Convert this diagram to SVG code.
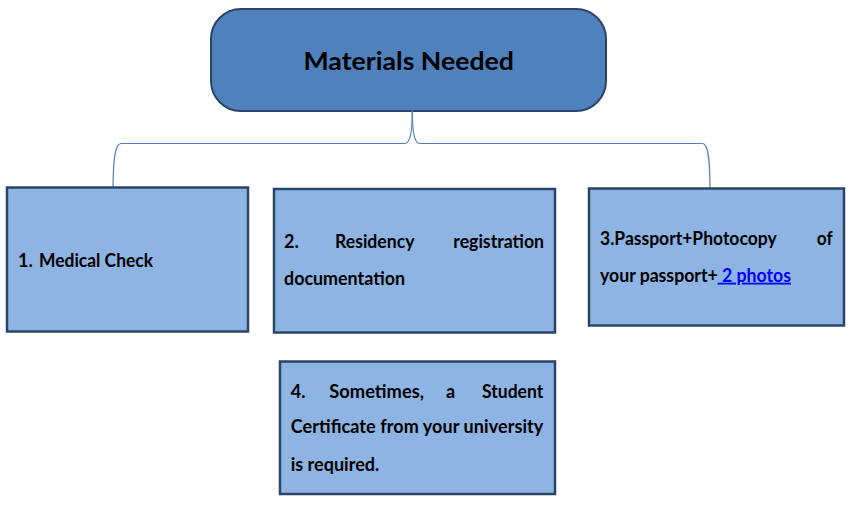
<svg xmlns="http://www.w3.org/2000/svg" width="852" height="505" viewBox="0 0 852 505">
<style>
.box{fill:#8eb4e3;stroke:#2a4467;stroke-width:2.5}
.top{fill:#4f81bd;stroke:#2a4467;stroke-width:2}
.t{font-family:Lato,"Liberation Sans",sans-serif;font-weight:bold;font-size:18px;fill:#000}
.title{font-family:Lato,"Liberation Sans",sans-serif;font-weight:bold;font-size:25px;fill:#000}
.link{fill:#0000ff;text-decoration:underline}
.conn{fill:none;stroke:#4f81bd;stroke-width:1.2}
</style>
<rect width="852" height="505" fill="#fff"/>
<g id="materials-needed">
<rect class="top" x="211" y="9" width="395" height="102" rx="30" ry="30"/>
<text class="title" x="303.5" y="70" textLength="210.5" lengthAdjust="spacingAndGlyphs">Materials Needed</text>
</g>
<g id="connectors">
<path class="conn" d="M412.3,95 L412.3,111 C412.3,130 410,143.5 405,143.5 L121,143.5 C116,143.5 113,155 113,192"/>
<path class="conn" d="M412.3,111 C412.3,130 414.6,143.5 419.6,143.5 L702.5,143.5 C707.5,143.5 710,155 710,192"/>
</g>
<g id="node-1">
<rect class="box" x="7" y="187.5" width="241" height="144"/>
<text class="t" x="18" y="266.5">1.</text>
<text class="t" x="39" y="266.5" textLength="114" lengthAdjust="spacingAndGlyphs">Medical Check</text>
</g>
<g id="node-2">
<rect class="box" x="274" y="189" width="281" height="143.5"/>
<text class="t" x="284" y="248">2.</text>
<text class="t" x="335" y="248" textLength="79.5" lengthAdjust="spacingAndGlyphs">Residency</text>
<text class="t" x="453.3" y="248" textLength="90.7" lengthAdjust="spacingAndGlyphs">registration</text>
<text class="t" x="284" y="285" textLength="121" lengthAdjust="spacingAndGlyphs">documentation</text>
</g>
<g id="node-3">
<rect class="box" x="589" y="188.5" width="255" height="137"/>
<text class="t" x="600" y="245" textLength="176.7" lengthAdjust="spacingAndGlyphs">3.Passport+Photocopy</text>
<text class="t" x="816.7" y="245" textLength="16" lengthAdjust="spacingAndGlyphs">of</text>
<text class="t" x="600" y="281.7" textLength="117.7" lengthAdjust="spacingAndGlyphs">your passport+</text>
<text class="t link" x="717.7" y="281.7" textLength="73.3" lengthAdjust="spacingAndGlyphs" xml:space="preserve"> 2 photos</text>
</g>
<g id="node-4">
<rect class="box" x="280" y="361.5" width="275" height="132.5"/>
<text class="t" x="290.7" y="398.3">4.</text>
<text class="t" x="329.3" y="398.3" textLength="94.7" lengthAdjust="spacingAndGlyphs">Sometimes,</text>
<text class="t" x="446" y="398.3">a</text>
<text class="t" x="482" y="398.3" textLength="61.3" lengthAdjust="spacingAndGlyphs">Student</text>
<text class="t" x="290.7" y="433.3" textLength="252.6" lengthAdjust="spacing">Certificate from your university</text>
<text class="t" x="290.7" y="470.7" textLength="88.6" lengthAdjust="spacingAndGlyphs">is required.</text>
</g>
</svg>
